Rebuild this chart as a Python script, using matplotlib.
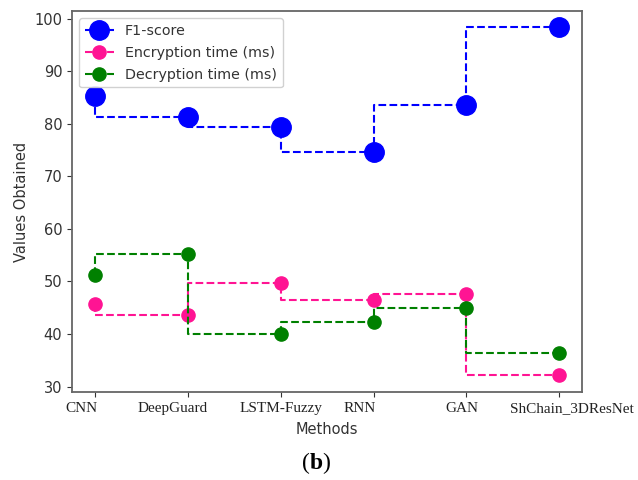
import matplotlib
matplotlib.use("Agg")
import matplotlib.pyplot as plt
from matplotlib.transforms import ScaledTranslation

methods = ["CNN", "DeepGuard", "LSTM-Fuzzy", "RNN", "GAN", "ShChain_3DResNet"]
f1_score = [85.4, 81.4, 79.5, 74.6, 83.6, 98.4]
enc_time = [45.7, 43.7, 49.7, 46.4, 47.6, 32.2]
dec_time = [51.3, 55.3, 40.0, 42.3, 44.9, 36.3]

# the tick labels in the source sit slightly off their ticks (pixels)
label_shift = [-13.5, -15.5, 0, -14, -4.5, 12.5]

plt.rcParams.update({"font.family": "DejaVu Sans", "text.color": "#333333",
                     "axes.labelcolor": "#333333", "xtick.color": "#333333",
                     "ytick.color": "#333333"})

fig = plt.figure(figsize=(6.38, 4.8), dpi=100)
ax = fig.add_axes([0.1129, 0.1827, 0.8, 0.7943])

x = range(len(methods))
ax.plot(x, f1_score, ls="--", drawstyle="steps-pre", color="blue", marker="o",
        ms=14, lw=1.5, label="F1-score")
ax.plot(x, enc_time, ls="--", drawstyle="steps-pre", color="#ff1493", marker="o",
        ms=9.5, lw=1.5, label="Encryption time (ms)")
ax.plot(x, dec_time, ls="--", drawstyle="steps-pre", color="green", marker="o",
        ms=9.5, lw=1.5, label="Decryption time (ms)")

ax.set_xticks(list(x))
ax.set_xticklabels(methods, family="Liberation Serif", fontsize=11, color="#222222")
for lab, dx in zip(ax.get_xticklabels(), label_shift):
    lab.set_transform(lab.get_transform() + ScaledTranslation(dx / 100, 0, fig.dpi_scale_trans))
ax.set_yticks([30, 40, 50, 60, 70, 80, 90, 100])
ax.tick_params(axis="y", labelsize=10.5)
ax.set_ylim(28.9, 101.5)
ax.set_xlabel("Methods", fontsize=10.5, labelpad=5)
ax.set_ylabel("Values Obtained", fontsize=10.5)
for s in ax.spines.values():
    s.set_color("#666666")
    s.set_linewidth(1.3)

ax.legend(loc="upper left", fontsize=10.3, handlelength=2.0, borderpad=0.4,
          labelspacing=0.55, framealpha=0.9)

# caption "(b)" with only the letter in bold
cy = 0.035
fig.text(0.485, cy, "(", family="Liberation Serif", fontsize=17, ha="right", va="center",
         color="black")
fig.text(0.4953, cy, "b", family="Liberation Serif", fontsize=17, weight="bold",
         ha="center", va="center", color="black")
fig.text(0.5055, cy, ")", family="Liberation Serif", fontsize=17, ha="left", va="center",
         color="black")

fig.savefig("out.png", dpi=100)
